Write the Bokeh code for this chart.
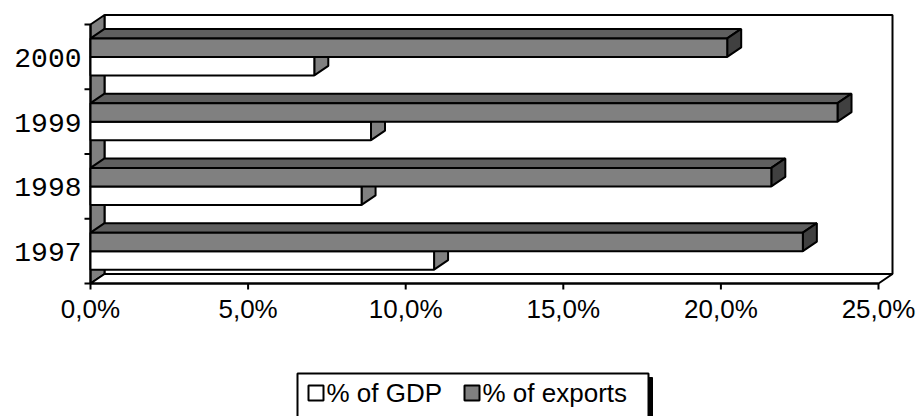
from bokeh.plotting import figure
from bokeh.models import Range1d
from bokeh.core.properties import value
from bokeh.embed import file_html
from bokeh.resources import INLINE

# ---- data -------------------------------------------------------------
years = ["1997", "1998", "1999", "2000"]
gdp_share = [10.9, 8.6, 8.9, 7.1]          # % of GDP
export_share = [22.6, 21.6, 23.7, 20.2]    # % of exports
x_ticks = [0, 5, 10, 15, 20, 25]
x_tick_labels = ["0,0%", "5,0%", "10,0%", "15,0%", "20,0%", "25,0%"]
series_names = ["% of GDP", "% of exports"]

# ---- layout -----------------------------------------------------------
W, H = 917, 416
X0_PX, XMAX_PX = 90, 878          # 0% and 25% on the front floor edge
FLOOR_PX, TOP_PX = 283, 24        # front plane bottom / top
X_MAX = 25
PX_PER_PCT = (XMAX_PX - X0_PX) / X_MAX
PX_PER_CAT = (FLOOR_PX - TOP_PX) / len(years)

DEPTH_X = 14 / PX_PER_PCT          # 3-D depth offset in data units
DEPTH_Y = 9.5 / PX_PER_CAT
GAP = 1.5                          # gap width relative to a bar
BAR = 1 / (2 + GAP)


def px_x(px):
    return (px - X0_PX) / PX_PER_PCT


def px_y(px):
    return (FLOOR_PX - px) / PX_PER_CAT


p = figure(width=W, height=H,
           x_range=Range1d(px_x(0), px_x(W)),
           y_range=Range1d(px_y(H), px_y(0)),
           x_axis_type=None, y_axis_type=None,
           output_backend="svg", toolbar_location=None,
           min_border=0, outline_line_color=None,
           background_fill_color="white", border_fill_color="white")

LW = 2
n = len(years)

# ---- walls and floor --------------------------------------------------
p.quad(left=DEPTH_X, right=X_MAX + DEPTH_X, bottom=DEPTH_Y, top=n + DEPTH_Y,
       fill_color="white", line_color="black", line_width=LW)
p.patch([0, DEPTH_X, DEPTH_X, 0], [0, DEPTH_Y, n + DEPTH_Y, n],
        fill_color="#808080", line_color="black", line_width=LW)
p.patch([0, X_MAX, X_MAX + DEPTH_X, DEPTH_X], [0, 0, DEPTH_Y, DEPTH_Y],
        fill_color="white", line_color="black", line_width=LW)

# axis ticks
tick_len_x = 6 / PX_PER_PCT
tick_len_y = 6 / PX_PER_CAT
p.segment(x0=[-tick_len_x] * (n + 1), y0=list(range(n + 1)),
          x1=[0] * (n + 1), y1=list(range(n + 1)),
          line_color="black", line_width=LW)
p.segment(x0=x_ticks, y0=[0] * len(x_ticks),
          x1=x_ticks, y1=[-tick_len_y] * len(x_ticks),
          line_color="black", line_width=LW)
p.segment(x0=[0], y0=[0], x1=[0], y1=[n], line_color="black", line_width=LW)
p.segment(x0=[0], y0=[0], x1=[X_MAX], y1=[0], line_color="black", line_width=LW)


# ---- 3-D bars ---------------------------------------------------------
def draw_bars(values, bottoms, front, top, side):
    tops = [b + BAR for b in bottoms]
    top_xs = [[0, DEPTH_X, v + DEPTH_X, v] for v in values]
    top_ys = [[t, t + DEPTH_Y, t + DEPTH_Y, t] for t in tops]
    side_xs = [[v, v, v + DEPTH_X, v + DEPTH_X] for v in values]
    side_ys = [[b, t, t + DEPTH_Y, b + DEPTH_Y] for b, t in zip(bottoms, tops)]
    p.patches(top_xs, top_ys, fill_color=top, line_color="black", line_width=LW)
    p.patches(side_xs, side_ys, fill_color=side, line_color="black", line_width=LW)
    return p.quad(left=[0] * len(values), right=values, bottom=bottoms, top=tops,
                  fill_color=front, line_color="black", line_width=LW)


gdp_bottoms = [i + GAP / 2 * BAR for i in range(n)]
exp_bottoms = [b + BAR for b in gdp_bottoms]
draw_bars(gdp_share, gdp_bottoms, "white", "#c0c0c0", "#808080")
draw_bars(export_share, exp_bottoms, "#808080", "#5f5f5f", "#404040")

# ---- tick labels ------------------------------------------------------
p.text(x=[px_x(81)] * n, y=[i + 0.5 - 1.0 / PX_PER_CAT for i in range(n)],
       text=years, text_font=value("Liberation Mono"), text_font_size="28px",
       text_align="right", text_baseline="middle", text_color="black")
p.text(x=x_ticks, y=[px_y(308.5)] * len(x_ticks), text=x_tick_labels,
       text_font=value("Liberation Sans"), text_font_size="26px",
       text_align="center", text_baseline="middle", text_color="black")

# ---- legend -----------------------------------------------------------
box_l, box_r, box_t, box_b = 297, 648, 373, 440
p.quad(left=[px_x(box_l + 4)], right=[px_x(box_r + 4)],
       top=[px_y(box_t + 4)], bottom=[px_y(box_b)],
       fill_color="black", line_color="black")
p.quad(left=[px_x(box_l)], right=[px_x(box_r)], top=[px_y(box_t)], bottom=[px_y(box_b)],
       fill_color="white", line_color="black", line_width=LW)
sw_left = [308, 464]
sw_colors = ["white", "#808080"]
p.quad(left=[px_x(s) for s in sw_left], right=[px_x(s + 15) for s in sw_left],
       top=[px_y(385)] * 2, bottom=[px_y(400)] * 2,
       fill_color=sw_colors, line_color="black", line_width=LW)
p.text(x=[px_x(s + 18) for s in sw_left], y=[px_y(392.5)] * 2, text=series_names,
       text_font=value("Liberation Sans"), text_font_size="26px",
       text_align="left", text_baseline="middle", text_color="black")

open("out.html", "w").write(file_html(p, INLINE))
